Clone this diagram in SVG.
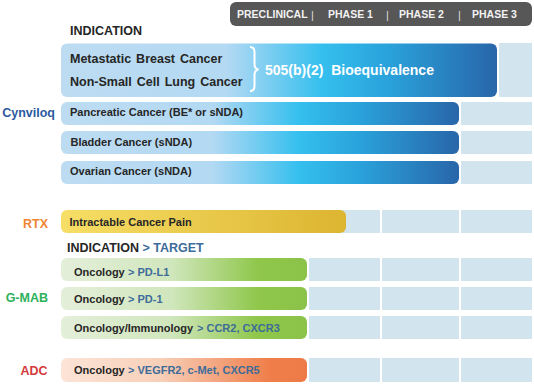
<svg xmlns="http://www.w3.org/2000/svg" width="534" height="385" viewBox="0 0 534 385">
<defs>
<linearGradient id="gBlue" x1="0" y1="0" x2="1" y2="0">
<stop offset="0" stop-color="#bddcf2"/>
<stop offset="0.38" stop-color="#b3d9f3"/>
<stop offset="0.6" stop-color="#34bfee"/>
<stop offset="0.75" stop-color="#2aa2db"/>
<stop offset="1" stop-color="#2866a9"/>
</linearGradient>
<linearGradient id="gYel" x1="0" y1="0" x2="1" y2="0">
<stop offset="0" stop-color="#f7de66"/>
<stop offset="1" stop-color="#dcb531"/>
</linearGradient>
<linearGradient id="gGreen" x1="0" y1="0" x2="1" y2="0">
<stop offset="0" stop-color="#e4efda"/>
<stop offset="0.45" stop-color="#d0e6bc"/>
<stop offset="0.8" stop-color="#8fc74b"/>
<stop offset="1" stop-color="#8bc34a"/>
</linearGradient>
<linearGradient id="gOrange" x1="0" y1="0" x2="1" y2="0">
<stop offset="0" stop-color="#fce4d7"/>
<stop offset="0.4" stop-color="#f8d0b9"/>
<stop offset="0.85" stop-color="#ef7e4a"/>
<stop offset="1" stop-color="#ee7b47"/>
</linearGradient>
<style>
text{font-family:"Liberation Sans",Arial,sans-serif;font-weight:bold}
.cell{fill:#d2e5ef}
.hd{fill:#f2f2f2;font-size:10.5px}
.sep{fill:#dddddd;font-size:11px;font-weight:normal}
.t{fill:#262626;font-size:11px}
.tg{fill:#3d6c9a;font-size:11px}
.big{fill:#262626;font-size:12.5px}
.wide{word-spacing:1.5px}
.lab{font-size:12.5px;text-anchor:end}
</style>
</defs>

<g id="header">
<rect x="230" y="2" width="302" height="24" rx="6" fill="#575757"/>
<text class="hd" x="237" y="18">PRECLINICAL</text>
<text class="sep" x="311" y="18.5">|</text>
<text class="hd" x="328" y="18">PHASE 1</text>
<text class="sep" x="386" y="18.5">|</text>
<text class="hd" x="399" y="18">PHASE 2</text>
<text class="sep" x="458" y="18.5">|</text>
<text class="hd" x="472" y="18">PHASE 3</text>
</g>

<g id="grid">
<rect class="cell" x="499" y="43" width="33" height="54"/>
<rect class="cell" x="461" y="102" width="71" height="23"/>
<rect class="cell" x="461" y="131" width="71" height="23"/>
<rect class="cell" x="461" y="161" width="71" height="23"/>
<rect class="cell" x="300" y="210" width="80" height="23"/>
<rect class="cell" x="382" y="210" width="77" height="23"/>
<rect class="cell" x="461" y="210" width="71" height="23"/>
<rect class="cell" x="309" y="258" width="71" height="23"/>
<rect class="cell" x="382" y="258" width="77" height="23"/>
<rect class="cell" x="461" y="258" width="71" height="23"/>
<rect class="cell" x="309" y="287" width="71" height="23"/>
<rect class="cell" x="382" y="287" width="77" height="23"/>
<rect class="cell" x="461" y="287" width="71" height="23"/>
<rect class="cell" x="309" y="316" width="71" height="23"/>
<rect class="cell" x="382" y="316" width="77" height="23"/>
<rect class="cell" x="461" y="316" width="71" height="23"/>
<rect class="cell" x="309" y="358" width="71" height="24"/>
<rect class="cell" x="382" y="358" width="77" height="24"/>
<rect class="cell" x="461" y="358" width="71" height="24"/>
</g>

<g id="indication-heading">
<text class="big" x="70" y="34.5">INDICATION</text>
</g>

<g id="cynviloq">
<text class="lab" x="55" y="116.5" fill="#2c5a9f">Cynviloq</text>
</g>

<g id="bar-breast-nsclc">
<rect x="61" y="43.5" width="436" height="53.5" rx="6" fill="url(#gBlue)"/>
<text class="big wide" x="70" y="62.5">Metastatic Breast Cancer</text>
<text class="big wide" x="70" y="85.5">Non-Small Cell Lung Cancer</text>
<path d="M250,47 Q254.5,47 254.5,52 L254.5,64 Q254.5,69 258.5,69.5 Q254.5,70 254.5,75 L254.5,86 Q254.5,91 250,91" fill="none" stroke="#ffffff" stroke-width="2"/>
<text x="265" y="75" fill="#ffffff" font-size="14px" word-spacing="4px">505(b)(2) Bioequivalence</text>
</g>

<g id="bar-pancreatic">
<rect x="61" y="102" width="398" height="23" rx="6" fill="url(#gBlue)"/>
<text class="t" x="70" y="116">Pancreatic Cancer (BE* or sNDA)</text>
</g>

<g id="bar-bladder">
<rect x="61" y="131" width="398" height="23" rx="6" fill="url(#gBlue)"/>
<text class="t" x="70.5" y="146">Bladder Cancer (sNDA)</text>
</g>

<g id="bar-ovarian">
<rect x="61" y="161" width="398" height="23" rx="6" fill="url(#gBlue)"/>
<text class="t" x="70" y="175">Ovarian Cancer (sNDA)</text>
</g>

<g id="rtx">
<text class="lab" x="48" y="227.5" fill="#ee8535">RTX</text>
<rect x="61" y="210" width="285" height="23" rx="6" fill="url(#gYel)"/>
<text class="t" x="69.5" y="226">Intractable Cancer Pain</text>
</g>

<g id="target-heading">
<text class="big" x="67" y="251.5">INDICATION <tspan fill="#3d6c9a">&gt; TARGET</tspan></text>
</g>

<g id="gmab">
<text class="lab" x="48" y="301.5" fill="#2db15b">G-MAB</text>
</g>

<g id="bar-pdl1">
<rect x="61" y="258" width="246" height="23" rx="6" fill="url(#gGreen)"/>
<text class="t" x="74" y="276">Oncology</text>
<text class="tg" x="128" y="276">&gt; PD-L1</text>
</g>

<g id="bar-pd1">
<rect x="61" y="287" width="246" height="23" rx="6" fill="url(#gGreen)"/>
<text class="t" x="74" y="303">Oncology</text>
<text class="tg" x="128" y="303">&gt; PD-1</text>
</g>

<g id="bar-ccr2">
<rect x="61" y="316" width="246" height="23" rx="6" fill="url(#gGreen)"/>
<text class="t" x="74" y="331.5">Oncology/Immunology</text>
<text class="tg" x="197" y="331.5">&gt; CCR2, CXCR3</text>
</g>

<g id="adc">
<text class="lab" x="47.5" y="374.5" fill="#d43a3c">ADC</text>
<rect x="61" y="358" width="246" height="24" rx="6" fill="url(#gOrange)"/>
<text class="t" x="74" y="374">Oncology</text>
<text class="tg" x="128" y="374">&gt; VEGFR2, c-Met, CXCR5</text>
</g>
</svg>
